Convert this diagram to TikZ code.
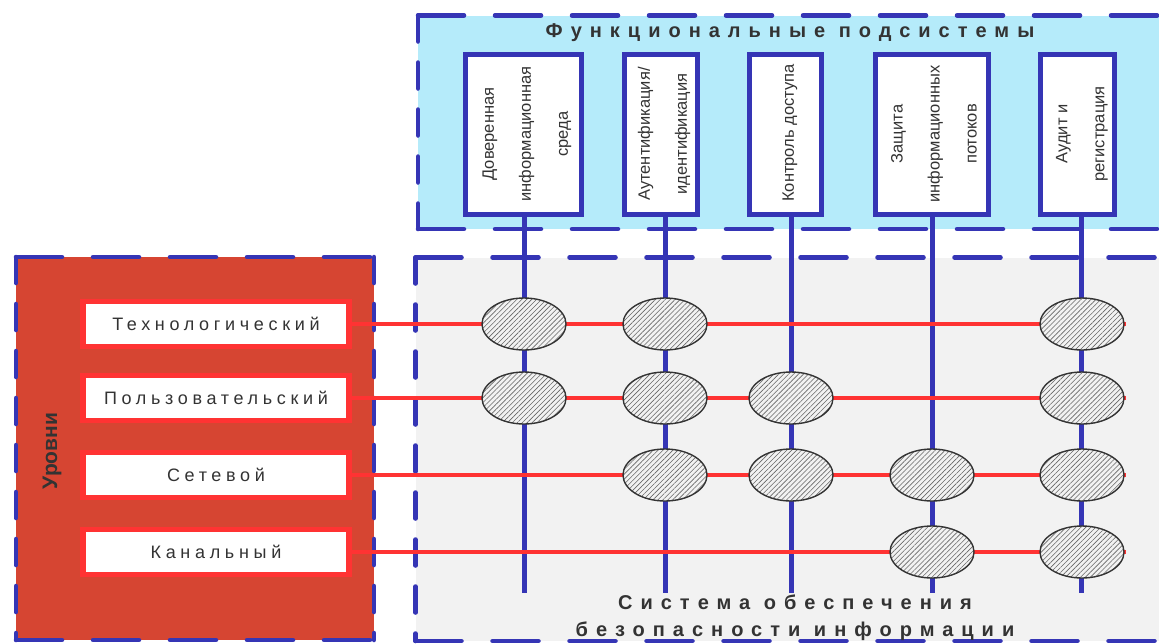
\documentclass[tikz,border=0pt]{standalone}
\usepackage{fontspec}
\setmainfont{Liberation Sans}
\newfontfamily\trackA{Liberation Sans}[LetterSpace=26]
\newfontfamily\trackB{Liberation Sans}[LetterSpace=40]
\usetikzlibrary{shapes.geometric,patterns.meta}
\definecolor{dblue}{HTML}{3535B5}
\definecolor{cyanbg}{HTML}{B5EBFA}
\definecolor{graybg}{HTML}{F2F2F2}
\definecolor{redbg}{HTML}{D64532}
\definecolor{redln}{HTML}{FF3333}
\definecolor{txt}{HTML}{333333}
\pgfdeclarelayer{bg}\pgfdeclarelayer{mid}\pgfsetlayers{bg,mid,main}
\begin{document}
\begin{tikzpicture}[x=1pt,y=-1pt,
  hd/.style={draw=dblue,line width=4.5pt,line cap=round,dash pattern=on 46pt off 31pt},
  vd/.style={draw=dblue,line width=4.5pt,line cap=round,dash pattern=on 26pt off 21pt},
  fbox/.style={draw=dblue,line width=5pt,fill=white,inner sep=0pt,minimum height=160pt},
  ftext/.style={rotate=90,align=center,text=txt,font=\fontsize{16.5}{37}\selectfont,inner sep=0pt},
  lbox/.style={draw=redln,line width=5.5pt,fill=white,minimum width=266pt,minimum height=45pt,inner sep=0pt,text=txt,font=\trackA\fontsize{18}{21}\selectfont},
  vline/.style={draw=dblue,line width=5pt},
  hline/.style={draw=redln,line width=4pt},
  cross/.style={ellipse,draw=black!80,line width=1.4pt,minimum width=84pt,minimum height=52pt,inner sep=0pt,preaction={fill=gray!10},pattern={Lines[angle=45,distance=3.5pt,line width=0.6pt]},pattern color=black!60},
  head/.style={text=txt,font=\trackB\bfseries\fontsize{20}{27}\selectfont,align=center,inner sep=0pt}
]
\useasboundingbox (0,0) rectangle (1159,643);
% backgrounds and dashed frames
\begin{pgfonlayer}{bg}
\fill[cyanbg] (418,15.5) rectangle (1159,229);
\fill[graybg] (415.5,257.5) rectangle (1159,641);
\fill[redbg] (16,257) rectangle (374,640);
\draw[hd] (418,15.5) -- (1165,15.5);
\draw[vd] (418,15.5) -- (418,229);
\draw[hd] (418,229) -- (1165,229);
\draw[hd] (415.5,257.5) -- (1165,257.5);
\draw[vd] (415.5,257.5) -- (415.5,641);
\draw[hd] (415.5,641) -- (1165,641);
\draw[hd] (16,257) -- (374,257);
\draw[hd] (16,640) -- (374,640);
\draw[vd] (16,257) -- (16,640);
\draw[vd] (374,257) -- (374,640);
\end{pgfonlayer}
% headings
\node[head] (title) at (790,33) {Функциональные подсистемы};
\node[head] (sysname) at (795,618) {Система обеспечения\\безопасности информации};
\node[rotate=90,text=txt,font=\bfseries\fontsize{21}{25}\selectfont,inner sep=0pt] (levels) at (52,451) {Уровни};
% functional subsystem boxes
\node[fbox,minimum width=116pt] (f1) at (523.5,134.5) {};
\node[fbox,minimum width=73pt] (f2) at (661,134.5) {};
\node[fbox,minimum width=72pt] (f3) at (785.5,134.5) {};
\node[fbox,minimum width=113pt] (f4) at (932,134.5) {};
\node[fbox,minimum width=74pt] (f5) at (1077.5,134.5) {};
\node[ftext] (t1) at (527,134) {Доверенная\\информационная\\среда};
\node[ftext] (t2) at (664,134) {Аутентификация/\\идентификация};
\node[ftext] (t3) at (790,133) {Контроль доступа};
\node[ftext] (t4) at (934,134) {Защита\\информационных\\потоков};
\node[ftext] (t5) at (1082,134) {Аудит и\\регистрация};
% level boxes
\node[lbox] (l1) at (216,324) {Технологический};
\node[lbox] (l2) at (216,398) {Пользовательский};
\node[lbox] (l3) at (216,475) {Сетевой};
\node[lbox] (l4) at (216,552) {Канальный};
% line ends
\coordinate (c1) at (524,593);
\coordinate (c2) at (665,593);
\coordinate (c3) at (791,593);
\coordinate (c4) at (932,593);
\coordinate (c5) at (1081,593);
\coordinate (r1) at (1126,324);
\coordinate (r2) at (1126,398);
\coordinate (r3) at (1126,475);
\coordinate (r4) at (1126,552);
\begin{pgfonlayer}{mid}
\draw[vline] (f1.south -| c1) -- (c1);
\draw[vline] (f2.south -| c2) -- (c2);
\draw[vline] (f3.south -| c3) -- (c3);
\draw[vline] (f4.south -| c4) -- (c4);
\draw[vline] (f5.south -| c5) -- (c5);
\draw[hline] (l1.east) -- (r1);
\draw[hline] (l2.east) -- (r2);
\draw[hline] (l3.east) -- (r3);
\draw[hline] (l4.east) -- (r4);
\end{pgfonlayer}
% intersections
\node[cross] (e11) at (524,324) {};
\node[cross] (e12) at (665,324) {};
\node[cross] (e15) at (1082,324) {};
\node[cross] (e21) at (524,398) {};
\node[cross] (e22) at (665,398) {};
\node[cross] (e23) at (791,398) {};
\node[cross] (e25) at (1082,398) {};
\node[cross] (e32) at (665,475) {};
\node[cross] (e33) at (791,475) {};
\node[cross] (e34) at (932,475) {};
\node[cross] (e35) at (1082,475) {};
\node[cross] (e44) at (932,552) {};
\node[cross] (e45) at (1082,552) {};
\end{tikzpicture}
\end{document}
